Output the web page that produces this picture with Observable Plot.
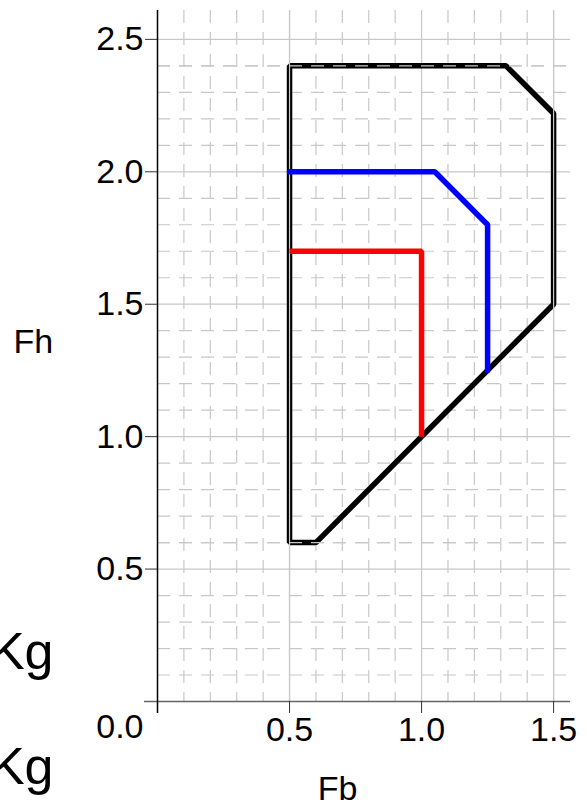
<!DOCTYPE html>
<html>
<head>
<meta charset="utf-8">
<script src="https://cdn.jsdelivr.net/npm/d3@7"></script>
<script src="https://cdn.jsdelivr.net/npm/@observablehq/plot@0.6"></script>
<style>
  html, body { margin: 0; padding: 0; background: #fff; }
  svg { display: block; }
</style>
</head>
<body>
<div id="chart"></div>
<script>
// Data
const blackFb = [0.5, 0.5, 1.32, 1.5, 1.5, 0.6];
const blackFh = [0.6, 2.4, 2.4, 2.22, 1.5, 0.6];
const blueFb = [0.5, 1.05, 1.25, 1.25];
const blueFh = [2.0, 2.0, 1.8, 1.25];
const redFb = [0.5, 1.0, 1.0];
const redFh = [1.7, 1.7, 1.0];

const xTicks = [0.5, 1.0, 1.5];
const yTicks = [0.5, 1.0, 1.5, 2.0, 2.5];
const xMinor = [0.1, 0.2, 0.3, 0.4, 0.6, 0.7, 0.8, 0.9, 1.1, 1.2, 1.3, 1.4];
const yMinor = [0.1, 0.2, 0.3, 0.4, 0.6, 0.7, 0.8, 0.9, 1.1, 1.2, 1.3, 1.4,
                1.6, 1.7, 1.8, 1.9, 2.1, 2.2, 2.3, 2.4];
const xLabel = "Fb";
const yLabel = "Fh";
const originLabel = "0.0";
const unitLabels = ["Kg", "Kg"];

const pts = (xs, ys) => xs.map((x, i) => ({x, y: ys[i]}));

// gridlines that coincide with axis-aligned edges of the black outline
// (in the reference they show through the black stroke)
const near = (a, b) => Math.abs(a - b) < 1e-9;
const n = blackFb.length;
const edgeX = [], edgeY = [];
for (let i = 0; i < n; i++) {
  const j = (i + 1) % n;
  if (near(blackFb[i], blackFb[j])) edgeX.push(blackFb[i]);
  if (near(blackFh[i], blackFh[j])) edgeY.push(blackFh[i]);
}
const isMajorX = v => xTicks.some(t => near(t, v));
const isMajorY = v => yTicks.some(t => near(t, v));

const FONT = "Liberation Sans, Arial, Helvetica, sans-serif";
const gridStyle = {stroke: "#c8c8c8", strokeOpacity: 1, strokeWidth: 1.2};
const dash = {strokeDasharray: "13,9"};

const chart = Plot.plot({
  width: 587,
  height: 808,
  marginLeft: 157,
  marginRight: 17,
  marginTop: 10,
  marginBottom: 107,
  style: {fontFamily: FONT, background: "white", overflow: "visible"},
  x: {domain: [0, 1.564], axis: null},
  y: {domain: [0, 2.609], axis: null},
  marks: [
    // minor dashed grid
    Plot.gridX(xMinor, {...gridStyle, ...dash}),
    Plot.gridY(yMinor, {...gridStyle, ...dash}),
    // major solid grid
    Plot.gridX(xTicks, gridStyle),
    Plot.gridY(yTicks, gridStyle),
    // black outer polygon
    Plot.line(pts(blackFb, blackFh), {
      x: "x", y: "y", stroke: "black", strokeWidth: 5.5,
      curve: "linear-closed", strokeLinejoin: "miter", strokeLinecap: "butt"
    }),
    // gridlines showing through the black edges
    Plot.gridX(edgeX.filter(isMajorX), gridStyle),
    Plot.gridX(edgeX.filter(v => !isMajorX(v)), {...gridStyle, ...dash}),
    Plot.gridY(edgeY.filter(isMajorY), gridStyle),
    Plot.gridY(edgeY.filter(v => !isMajorY(v)), {...gridStyle, ...dash}),
    // coloured lines
    Plot.line(pts(blueFb, blueFh), {
      x: "x", y: "y", stroke: "#0000ff", strokeWidth: 5.5,
      strokeLinejoin: "miter", strokeLinecap: "round"
    }),
    Plot.line(pts(redFb, redFh), {
      x: "x", y: "y", stroke: "#ff0000", strokeWidth: 5.5,
      strokeLinejoin: "miter", strokeLinecap: "butt"
    }),
    // axis lines
    Plot.ruleY([0], {stroke: "#666", strokeWidth: 1.5, insetLeft: -13}),
    Plot.ruleX([0], {stroke: "black", strokeWidth: 1.5, insetBottom: -12}),
    // axes
    Plot.axisY(yTicks, {
      tickSize: 12, tickPadding: 2, fontSize: 34, stroke: "#333", fill: "black",
      tickFormat: d3.format(".1f"), label: null
    }),
    Plot.axisX(xTicks, {
      tickSize: 12, tickPadding: 3, fontSize: 34, stroke: "#333", fill: "black",
      tickFormat: d3.format(".1f"), label: null
    }),
    // origin label
    Plot.text([originLabel], {
      frameAnchor: "bottom-left", text: d => d, textAnchor: "end",
      dx: -14, dy: 36, fontSize: 34, fill: "black"
    }),
    // axis titles
    Plot.text([yLabel], {
      frameAnchor: "left", text: d => d, textAnchor: "start",
      dx: -144, dy: -14, fontSize: 34, fill: "black"
    }),
    Plot.text([xLabel], {
      frameAnchor: "bottom-left", text: d => d, textAnchor: "middle",
      dx: 180, dy: 98, fontSize: 34, fill: "black"
    }),
    // unit labels (clipped at the left edge, as in the reference)
    Plot.text([unitLabels[0]], {
      frameAnchor: "bottom-left", text: d => d, textAnchor: "end",
      dx: -104, dy: -33, fontSize: 52, fill: "black"
    }),
    Plot.text([unitLabels[1]], {
      frameAnchor: "bottom-left", text: d => d, textAnchor: "end",
      dx: -104, dy: 82, fontSize: 52, fill: "black"
    })
  ]
});

document.getElementById("chart").appendChild(chart);
</script>
</body>
</html>
